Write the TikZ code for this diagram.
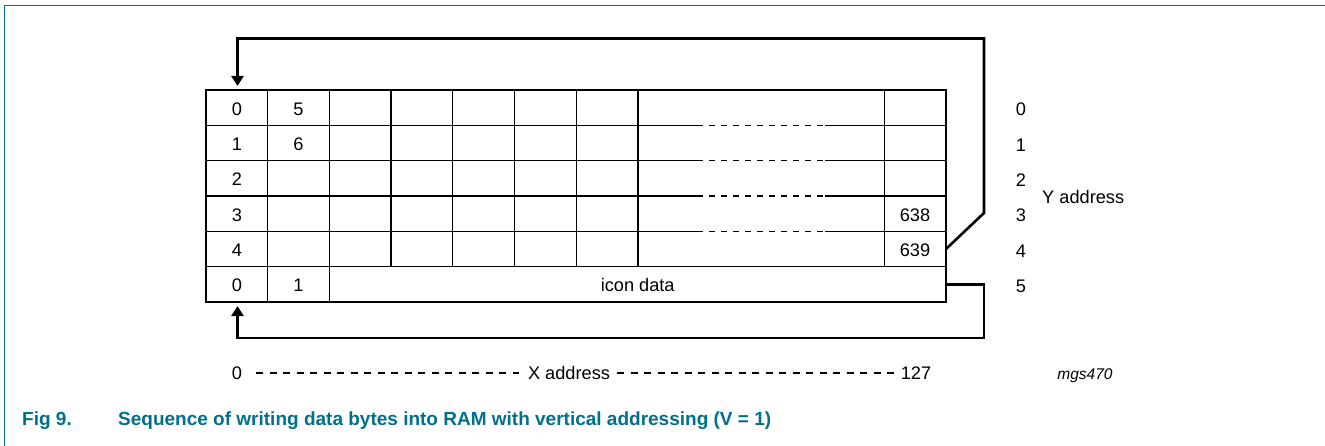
\documentclass[tikz,border=0pt]{standalone}
\usepackage{fontspec}
\setmainfont{Liberation Sans}
\usetikzlibrary{arrows.meta}
\definecolor{nxpteal}{RGB}{0,112,140}
\begin{document}
\begin{tikzpicture}[x=1pt,y=-1pt,
  font=\fontsize{18.2}{21}\selectfont,
  gridline/.style={line width=1.3pt},
  innerdash/.style={line width=1.3pt, dash pattern=on 6pt off 6pt},
  flow/.style={line width=2.6pt, -{Triangle[length=10pt,width=12pt]}},
  lbl/.style={inner sep=0pt, text height=13pt, text depth=0pt},
  xdash/.style={line width=1.2pt, dash pattern=on 7pt off 6.5pt},
  captionstyle/.style={inner sep=0pt, anchor=west, text=nxpteal, font=\fontsize{19}{22}\selectfont\bfseries}]
\useasboundingbox (0,0) rectangle (1325,446);
% frame
\draw[nxpteal, line width=1.5pt] (4.5,446) -- (4.5,5.5) -- (1325,5.5);
% table
\draw[gridline] (206,90) rectangle (946,302);
\foreach \y in {125.3,160.7,196,231.3} {
  \draw[gridline] (206,\y) -- (697,\y);
  \draw[innerdash] (697,\y) -- (825,\y);
  \draw[gridline] (825,\y) -- (946,\y);
}
\draw[gridline] (206,266.7) -- (946,266.7);
\foreach \x in {267.7,329.4} \draw[gridline] (\x,90) -- (\x,302);
\foreach \x in {391.1,452.8,514.5,576.2,637.9,884.3} \draw[gridline] (\x,90) -- (\x,266.7);
% cell texts
\node[lbl] (c00) at (237,109) {0};
\node[lbl] (c01) at (298.5,109) {5};
\node[lbl] (c10) at (237,144.5) {1};
\node[lbl] (c11) at (298.5,144.5) {6};
\node[lbl] (c20) at (237,179.5) {2};
\node[lbl] (c30) at (237,215) {3};
\node[lbl] (c40) at (237,250.5) {4};
\node[lbl] (c50) at (237,285.5) {0};
\node[lbl] (c51) at (298.5,285.5) {1};
\node[lbl] (icon) at (637.7,285.5) {icon data};
\node[lbl] (n638) at (915,215) {638};
\node[lbl] (n639) at (915,250.5) {639};
% Y address labels
\node[lbl] (y0) at (1021,109.5) {0};
\node[lbl] (y1) at (1021,145) {1};
\node[lbl] (y2) at (1021,180) {2};
\node[lbl] (y3) at (1021,215.5) {3};
\node[lbl] (y4) at (1021,251) {4};
\node[lbl] (y5) at (1021,286) {5};
\node[lbl, anchor=west] (yaddr) at (1042,197) {Y address};
% connectors
\coordinate (rowfourend) at (946,249);
\coordinate (iconend) at (946,284.5);
\coordinate (topin) at (237.5,86);
\coordinate (botin) at (237.5,306);
\draw[flow] (rowfourend) -- (984,213) -- (984,38.5) -| (topin);
\draw[flow] (iconend) -| (984,338) -| (botin);
% X address
\node[lbl] (x0) at (237,373) {0};
\node[lbl] (xaddr) at (569,373) {X address};
\node[lbl] (x127) at (916,373) {127};
\node[lbl, font=\fontsize{15.5}{18}\selectfont\itshape] (mgs) at (1085,373) {mgs470};
\draw[xdash] ([xshift=14pt]x0.east) -- ([xshift=-9pt]xaddr.west);
\draw[xdash] ([xshift=7pt]xaddr.east) -- ([xshift=-6pt]x127.west);
% caption
\node[captionstyle] (fig) at (22,421) {Fig 9.};
\node[captionstyle] (captext) at (118,421) {Sequence of writing data bytes into RAM with vertical addressing (V = 1)};
\end{tikzpicture}
\end{document}
